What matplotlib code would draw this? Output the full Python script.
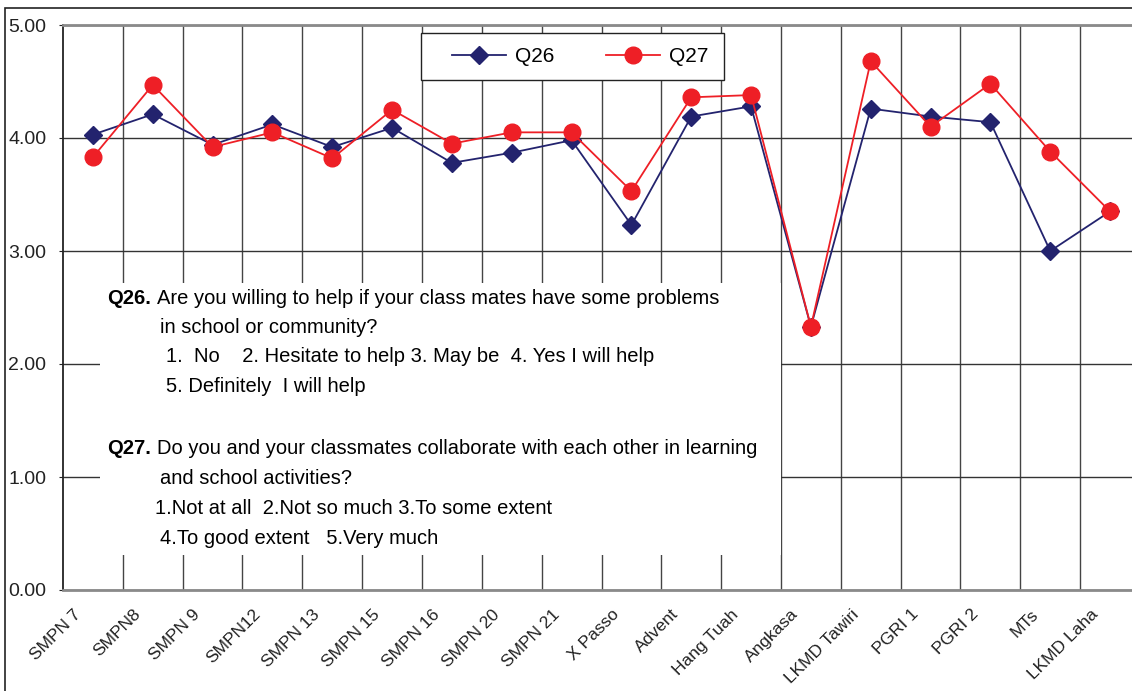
import numpy as np
import matplotlib
matplotlib.use("Agg")
import matplotlib.pyplot as plt
from matplotlib.patches import Rectangle
from matplotlib.transforms import ScaledTranslation

# data
schools = ['SMPN 7', 'SMPN8', 'SMPN 9', 'SMPN12', 'SMPN 13', 'SMPN 15', 'SMPN 16',
           'SMPN 20', 'SMPN 21', 'X Passo', 'Advent', 'Hang Tuah', 'Angkasa',
           'LKMD Tawiri', 'PGRI 1', 'PGRI 2', 'MTs', 'LKMD Laha']
q26 = [4.03, 4.21, 3.94, 4.12, 3.92, 4.09, 3.78, 3.87, 3.98,
       3.23, 4.19, 4.28, 2.33, 4.26, 4.19, 4.14, 3.00, 3.35]
q27 = [3.83, 4.47, 3.92, 4.05, 3.82, 4.25, 3.95, 4.05, 4.05,
       3.53, 4.36, 4.38, 2.33, 4.68, 4.10, 4.48, 3.88, 3.35]
y_ticks = [0, 1, 2, 3, 4, 5]

W, H = 1132, 691
narrow = ['Liberation Sans Narrow', 'Liberation Sans', 'DejaVu Sans']
plt.rcParams['font.family'] = ['Liberation Sans', 'DejaVu Sans']


def fx(px):
    return px / W


def fy(py):
    return 1 - py / H


fig = plt.figure(figsize=(W / 100, H / 100), dpi=100)
# axes in pixel terms: left 63, right 1140 (cut off), top 25, bottom 590
ax = fig.add_axes([fx(63), fy(590), (1140 - 63) / W, (590 - 25) / H])

# outer chart frame
fig.patches.append(Rectangle((fx(5), -0.1), 1.2, fy(8) + 0.1, transform=fig.transFigure,
                             fill=False, edgecolor='#222222', linewidth=1.2))

x = np.arange(len(schools))
ax.plot(x, q26, color='#23236E', linewidth=1.3, marker='D', markersize=9.5,
        label='Q26', zorder=3)
ax.plot(x, q27, color='#EE1F26', linewidth=1.3, marker='o', markersize=12,
        label='Q27', zorder=3)

ax.set_xlim(-0.5, len(schools) - 0.5)
ax.set_ylim(0, 5)
ax.set_yticks(y_ticks)
ax.set_yticklabels(['%.2f' % v for v in y_ticks], fontsize=14, color='#222222')
ax.tick_params(axis='y', length=3, pad=9, color='#222222')
ax.set_xticks(x)
ax.set_xticklabels(schools, rotation=45, ha='right', va='top', rotation_mode='anchor',
                   fontsize=12.5, color='#222222')
ax.tick_params(axis='x', length=0, pad=12)
# shift the slanted labels left of their ticks
shift = ScaledTranslation(-0.2, 0, fig.dpi_scale_trans)
for lab in ax.get_xticklabels():
    lab.set_transform(lab.get_transform() + shift)

# gridlines
ax.set_xticks(np.arange(0.5, len(schools) - 0.5), minor=True)
ax.tick_params(axis='x', which='minor', length=0)
ax.set_axisbelow(True)
ax.grid(True, axis='x', which='minor', color='#444444', linewidth=1)
ax.grid(True, axis='y', which='major', color='#333333', linewidth=1)

for side in ['top', 'bottom']:
    ax.spines[side].set_color('#8a8a8a')
    ax.spines[side].set_linewidth(2)
ax.spines['left'].set_color('#222222')
ax.spines['left'].set_linewidth(1.3)
ax.spines['right'].set_visible(False)


# white box under the question text
def ax_x(px):
    return (px - 63) / (1140 - 63)


def ax_y(py):
    return (590 - py) / (590 - 25)


ax.add_patch(Rectangle((ax_x(100), ax_y(555)), ax_x(781) - ax_x(100), ax_y(283) - ax_y(555),
                       transform=ax.transAxes, facecolor='white', edgecolor='none', zorder=1))

# legend box
ax.add_patch(Rectangle((ax_x(421), ax_y(80)), ax_x(724) - ax_x(421), ax_y(33) - ax_y(80),
                       transform=ax.transAxes, facecolor='white', edgecolor='#222222',
                       linewidth=1, zorder=4))
leg = ax.legend(loc='center', bbox_to_anchor=(ax_x(580), ax_y(57)), ncol=2, frameon=False,
                fontsize=15, handlelength=2.6, handletextpad=0.4, columnspacing=2.5)
leg.set_zorder(5)

# question text
fs = 14.5
fig.text(fx(107), fy(298), 'Q26.', fontsize=fs, fontweight='bold', family=narrow, va='center')
fig.text(fx(157), fy(298), 'Are you willing to help if your class mates have some problems',
         fontsize=fs, family=narrow, va='center')
fig.text(fx(160), fy(327), 'in school or community?', fontsize=fs, family=narrow, va='center')
fig.text(fx(166), fy(357), '1.  No    2. Hesitate to help 3. May be  4. Yes I will help',
         fontsize=fs, family=narrow, va='center')
fig.text(fx(166), fy(387), '5. Definitely  I will help', fontsize=fs, family=narrow, va='center')
fig.text(fx(107), fy(448), 'Q27.', fontsize=fs, fontweight='bold', family=narrow, va='center')
fig.text(fx(157), fy(448), 'Do you and your classmates collaborate with each other in learning',
         fontsize=fs, family=narrow, va='center')
fig.text(fx(160), fy(478), 'and school activities?', fontsize=fs, family=narrow, va='center')
fig.text(fx(155), fy(508), '1.Not at all  2.Not so much 3.To some extent',
         fontsize=fs, family=narrow, va='center')
fig.text(fx(160), fy(538), '4.To good extent   5.Very much', fontsize=fs, family=narrow, va='center')

fig.savefig('out.png', dpi=100)
